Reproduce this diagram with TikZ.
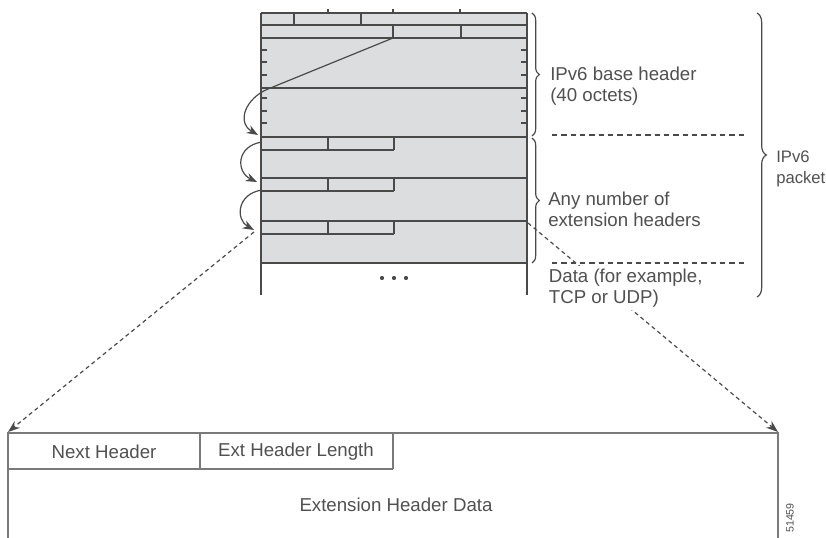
\documentclass[tikz,border=0pt]{standalone}
\usepackage{fontspec}
\setmainfont{Liberation Sans}
\usetikzlibrary{arrows.meta,decorations.pathreplacing}
\definecolor{fillg}{HTML}{DCDDDE}
\definecolor{lineg}{HTML}{4A4A4A}
\definecolor{boxg}{HTML}{7A7A7A}
\definecolor{txtg}{HTML}{505050}
\begin{document}
\begin{tikzpicture}[x=0.75pt,y=-0.75pt,
  frame/.style={draw=lineg,line width=1.1pt},
  thinline/.style={draw=lineg,line width=0.8pt},
  boxline/.style={draw=boxg,line width=1.1pt},
  lbl/.style={text=txtg,font=\fontsize{14}{16}\selectfont,anchor=west,inner sep=0pt,align=left},
  clbl/.style={text=txtg,font=\fontsize{14}{16}\selectfont,inner sep=0pt},
  curarrow/.style={draw=lineg,line width=0.9pt,-{Stealth[length=8.5pt,width=6.5pt]}},
  dasharrow/.style={draw=lineg,line width=0.9pt,dash pattern=on 3pt off 2.5pt,-{Stealth[length=9pt,width=6.5pt]}},
  sepline/.style={draw=lineg,line width=0.9pt,dash pattern=on 4pt off 3pt},
  brc/.style={draw=lineg,line width=0.9pt,decorate,decoration={brace,amplitude=5.5pt}}]
\useasboundingbox (0,0) rectangle (826,538);
% packet block
\fill[fillg] (261,13) rectangle (527,263);
\foreach \y in {13,25,38,88,137,178,221,263} \draw[frame] (261,\y) -- (527,\y);
\draw[frame] (261,13) -- (261,263);
\draw[frame] (527,13) -- (527,263);
\draw[thinline] (261,263) -- (261,295);
\draw[thinline] (527,263) -- (527,295);
% ticks above
\foreach \x in {328,393,460} \draw[thinline] (\x,9) -- (\x,13);
% row dividers
\foreach \x in {294,361} \draw[frame] (\x,13) -- (\x,25);
\foreach \x in {393,461} \draw[frame] (\x,25) -- (\x,38);
% side ticks
\foreach \y in {50,62,75,98,111,123} {
  \draw[frame] (261,\y) -- (267,\y);
  \draw[frame] (521,\y) -- (527,\y);
}
% extension header fields
\foreach \t in {137,178,221} {
  \draw[frame] (261,\t+13) -- (394,\t+13);
  \draw[frame] (328,\t) -- (328,\t+13);
  \draw[frame] (394,\t) -- (394,\t+13);
}
% dots
\foreach \x in {382,394,406} \fill[lineg] (\x,278) circle (2.1);
% braces
\draw[brc] (532,13) -- (532,136);
\draw[brc] (532,138) -- (532,263);
\draw[brc,decoration={brace,amplitude=7pt}] (757,13) -- (757,297);
% separators
\draw[sepline] (552,135) -- (744,135);
\draw[sepline] (552,263) -- (744,263);
% bottom extension header
\draw[boxline] (8,538) -- (8,433) -- (778,433) -- (778,538);
\draw[boxline] (8,469) -- (393,469);
\draw[boxline] (200,433) -- (200,469);
\draw[boxline] (393,433) -- (393,469);
\node[clbl] (nh) at (104,452) {Next Header};
\node[clbl] (ehl) at (296,452) {Ext Header Length};
\node[clbl] (ehd) at (396,505) {Extension Header Data};
\node[text=txtg,font=\fontsize{8}{9}\selectfont,rotate=90,inner sep=0pt] (fig) at (790,518) {51459};
% coordinates for connectors
\coordinate (nhf) at (393,38);
\coordinate (bend) at (268,89);
\coordinate (e1) at (258,135);
\coordinate (s2) at (262,142);
\coordinate (e2) at (257,182);
\coordinate (s3) at (262,190);
\coordinate (e3) at (254,230);
\coordinate (dl) at (254,232);
\coordinate (dr) at (528,223);
\coordinate (bl) at (8,432);
\coordinate (br) at (778,432);
% chain arrows
\draw[curarrow] (nhf) -- (bend) .. controls (246,98) and (236,122) .. (e1);
\draw[curarrow] (s2) .. controls (236,146) and (236,172) .. (e2);
\draw[curarrow] (s3) .. controls (236,194) and (236,220) .. (e3);
% dashed zoom lines
\draw[dasharrow] (dl) -- (bl);
\draw[dasharrow] (dr) -- (br);
% labels
\node[lbl] (base) at (550,86) {IPv6 base header\\(40 octets)};
\node[lbl] (ext) at (548,209) {Any number of\\extension headers};
\node[lbl,fill=white,inner sep=2pt] (data) at (546,288) {Data (for example,\\TCP or UDP)};
\node[lbl,font=\fontsize{12.5}{16}\selectfont] (pkt) at (776,169) {IPv6\\packet};
\end{tikzpicture}
\end{document}
